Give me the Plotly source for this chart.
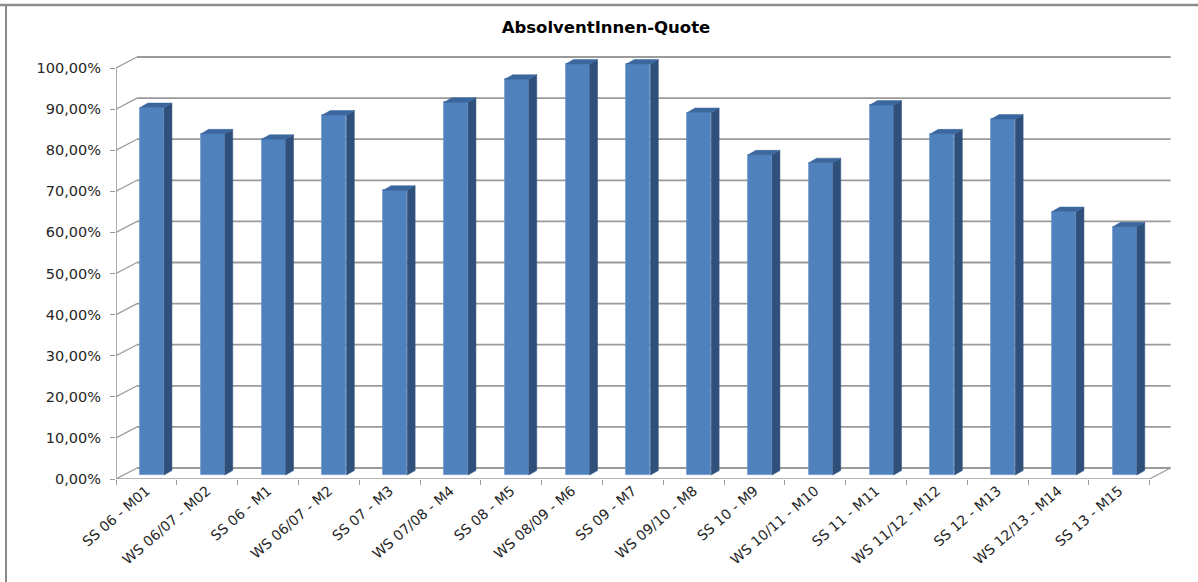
import plotly.graph_objects as go

categories = ["SS 06 - M01", "WS 06/07 - M02", "SS 06 - M1", "WS 06/07 - M2", "SS 07 - M3",
              "WS 07/08 - M4", "SS 08 - M5", "WS 08/09 - M6", "SS 09 - M7", "WS 09/10 - M8",
              "SS 10 - M9", "WS 10/11 - M10", "SS 11 - M11", "WS 11/12 - M12", "SS 12 - M13",
              "WS 12/13 - M14", "SS 13 - M15"]
values = [0.894, 0.830, 0.817, 0.876, 0.693, 0.907, 0.963, 1.00, 1.00, 0.882,
          0.779, 0.760, 0.900, 0.830, 0.866, 0.641, 0.604]
y_ticks = [i / 10 for i in range(11)]
y_labels = [f"{i*10},00%" for i in range(11)]

# pseudo-3D geometry (axis units)
W, H = 1198, 582
L, R, T, B = 116, 26, 55, 103
px_x = 60.8          # pixels per category
px_y = 411.0         # pixels per 100 %
x_min = -0.5
x_max = x_min + (W - L - R) / px_x
y_max = (H - T - B) / px_y
wall_dx, wall_dy = 21 / px_x, 11 / px_y
bar_base = 4 / px_y
f_off, f_w = -0.105, 0.395
s_w, s_dy = 0.13, 4.5 / px_y
n = len(categories)

BLUE = "#4f81bd"
SIDE = "#30507c"
TOP = "#3b679f"
GRID = "#9a9a9a"

fig = go.Figure()

xs = list(range(n))
fig.add_trace(go.Bar(x=xs, y=values, base=[bar_base] * n, offset=f_off, width=f_w,
                     marker=dict(color=BLUE, line=dict(color="#6d97cb", width=0.8)),
                     hoverinfo="skip", showlegend=False))

sx, sy, tx, ty = [], [], [], []
for k, v in zip(xs, values):
    x0 = k + f_off + f_w
    x1 = x0 + s_w
    top = bar_base + v
    sx += [x0, x1, x1, x0, x0, None]
    sy += [bar_base, bar_base + s_dy, top + s_dy, top, bar_base, None]
    tx += [k + f_off, x0, x1, k + f_off + s_w, k + f_off, None]
    ty += [top, top, top + s_dy, top + s_dy, top, None]
fig.add_trace(go.Scatter(x=sx, y=sy, fill="toself", fillcolor=SIDE, mode="lines",
                         line=dict(color=SIDE, width=0.5), hoverinfo="skip", showlegend=False))
fig.add_trace(go.Scatter(x=tx, y=ty, fill="toself", fillcolor=TOP, mode="lines",
                         line=dict(color=TOP, width=0.5), hoverinfo="skip", showlegend=False))

shapes = []
x_end = n - 0.5
for v in y_ticks:
    shapes.append(dict(type="line", xref="x", yref="y", layer="below",
                       x0=x_min + wall_dx, x1=x_end + wall_dx, y0=v + wall_dy, y1=v + wall_dy,
                       line=dict(color=GRID, width=1.8)))
    shapes.append(dict(type="line", xref="x", yref="y", layer="below",
                       x0=x_min, x1=x_min + wall_dx, y0=v, y1=v + wall_dy,
                       line=dict(color=GRID, width=1.2)))
# floor front edge and right edge
shapes.append(dict(type="line", xref="x", yref="y", layer="below",
                   x0=x_min, x1=x_end, y0=0, y1=0, line=dict(color=GRID, width=1.6)))
shapes.append(dict(type="line", xref="x", yref="y", layer="below",
                   x0=x_end, x1=x_end + wall_dx, y0=0, y1=wall_dy, line=dict(color=GRID, width=1.2)))
# front vertical axis
shapes.append(dict(type="line", xref="x", yref="y", layer="below",
                   x0=x_min, x1=x_min, y0=0, y1=1.0, line=dict(color=GRID, width=1.6)))
# chart border (top and left)
pw = W - L - R
ph = H - T - B
shapes.append(dict(type="line", xref="paper", yref="paper",
                   x0=(0 - L) / pw, x1=(W - L) / pw, y0=1 + (T - 5) / ph, y1=1 + (T - 5) / ph,
                   line=dict(color="#8c8c8c", width=2.5)))
shapes.append(dict(type="line", xref="paper", yref="paper",
                   x0=(6 - L) / pw, x1=(6 - L) / pw, y0=-B / ph, y1=1 + (T - 5) / ph,
                   line=dict(color="#8c8c8c", width=2)))

fig.update_layout(
    width=W, height=H,
    margin=dict(l=L, r=R, t=T, b=B, autoexpand=False),
    paper_bgcolor="white", plot_bgcolor="white",
    shapes=shapes,
    title=dict(text="<b>AbsolventInnen-Quote</b>", x=606 / W, xref="container", xanchor="center",
               y=1 - 27 / H, yref="container", yanchor="middle",
               font=dict(family="DejaVu Sans", size=16.5, color="#000000")),
    xaxis=dict(range=[x_min, x_max], tickvals=xs, ticktext=categories, tickangle=-41,
               automargin=False,
               ticks="", showgrid=False, zeroline=False, showline=False,
               tickfont=dict(family="DejaVu Sans", size=14, color="#262626"),
               minor=dict(tickvals=[k - 0.5 for k in range(n + 1)], ticks="outside",
                          ticklen=5, tickcolor=GRID, tickwidth=1.2, showgrid=False)),
    yaxis=dict(range=[0, y_max], tickvals=y_ticks, ticktext=y_labels, ticks="outside",
               automargin=False,
               ticklen=5, tickcolor=GRID, tickwidth=1.2, showgrid=False, zeroline=False,
               showline=False, ticklabelstandoff=6,
               tickfont=dict(family="DejaVu Sans", size=14.5, color="#262626")),
    bargap=0,
)

fig.write_html("out.html", config={"displayModeBar": False},
               post_script="document.body.style.margin='0px';")
